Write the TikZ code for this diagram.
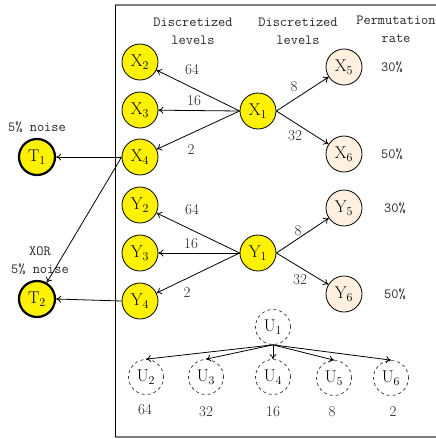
\documentclass[tikz,border=0pt]{standalone}
\usetikzlibrary{arrows.meta}
\begin{document}
\begin{tikzpicture}[x=1pt,y=-1pt,
  every node/.style={inner sep=0pt},
  yel/.style={circle,draw=black,line width=0.8pt,fill=yellow,minimum size=36pt,font=\fontsize{17}{17}\selectfont},
  pch/.style={circle,draw=black,line width=0.8pt,fill=orange!12!white,minimum size=36pt,font=\fontsize{17}{17}\selectfont},
  tgt/.style={circle,draw=black,line width=2.2pt,fill=yellow,minimum size=36pt,font=\fontsize{17}{17}\selectfont},
  unode/.style={circle,draw=black!80,dashed,line width=0.7pt,minimum size=35pt,font=\fontsize{17}{17}\selectfont},
  arr/.style={-{To[length=5pt,width=7pt]},line width=0.8pt},
  mono/.style={font=\ttfamily\fontsize{14}{18}\selectfont,align=center,text=black!85},
  num/.style={font=\fontsize{15}{15}\selectfont,text=black!85}
]
\useasboundingbox (0,0) rectangle (436,439);
% frame
\draw[gray,line width=1.2pt] (115,5) -- (440,5);
\draw[gray,line width=1.2pt] (115,437) -- (440,437);
\draw[black,line width=1pt] (115,5) -- (115,437);
% headers
\node[mono] (h1) at (193,31) {Discretized\\levels};
\node[mono] (h2) at (298,31) {Discretized\\levels};
\node[mono] (h3) at (396,29) {Permutation\\rate};
% nodes
\node[yel] (X2) at (140,62) {X$_2$};
\node[yel] (X3) at (140,110) {X$_3$};
\node[yel] (X4) at (140,157) {X$_4$};
\node[yel] (Y2) at (140,205) {Y$_2$};
\node[yel] (Y3) at (140,253) {Y$_3$};
\node[yel] (Y4) at (140,301) {Y$_4$};
\node[yel] (X1) at (258,111) {X$_1$};
\node[yel] (Y1) at (258,253) {Y$_1$};
\node[pch] (X5) at (344,67) {X$_5$};
\node[pch] (X6) at (344,154) {X$_6$};
\node[pch] (Y5) at (344,208) {Y$_5$};
\node[pch] (Y6) at (344,294) {Y$_6$};
\node[tgt] (T1) at (37,157) {T$_1$};
\node[tgt] (T2) at (37,299) {T$_2$};
\node[unode] (U1) at (273,327) {U$_1$};
\node[unode] (U2) at (146,377) {U$_2$};
\node[unode] (U3) at (206,377) {U$_3$};
\node[unode] (U4) at (273,377) {U$_4$};
\node[unode] (U5) at (334,378) {U$_5$};
\node[unode] (U6) at (391,378) {U$_6$};
% side labels
\node[mono] (p1) at (392,67) {30\%};
\node[mono] (p2) at (392,154) {50\%};
\node[mono] (p3) at (395,208) {30\%};
\node[mono] (p4) at (395,294) {50\%};
\node[mono] (n1) at (37,127) {5\% noise};
\node[mono] (n2) at (40,261) {XOR\\5\% noise};
% connectors X
\draw[arr] (X1.west) -- (X2);
\draw[arr] (X1.west) -- (X3);
\draw[arr] (X1.west) -- (X4);
\draw[arr] (X1.east) -- (X5);
\draw[arr] (X1.east) -- (X6);
\node[num] (l1) at (192,70) {64};
\node[num] (l2) at (194,101) {16};
\node[num] (l3) at (191,150) {2};
\node[num] (l4) at (294,87) {8};
\node[num] (l5) at (295,136) {32};
% connectors Y
\draw[arr] (Y1.west) -- (Y2);
\draw[arr] (Y1.west) -- (Y3);
\draw[arr] (Y1.west) -- (Y4);
\draw[arr] (Y1.east) -- (Y5);
\draw[arr] (Y1.east) -- (Y6);
\node[num] (l6) at (192,210) {64};
\node[num] (l7) at (191,244) {16};
\node[num] (l8) at (187,293) {2};
\node[num] (l9) at (298,231) {8};
\node[num] (l10) at (300,280) {32};
% targets
\draw[arr] (X4.west) -- (T1.east);
\draw[arr] (X4.west) -- (T2);
\draw[arr] (Y4.west) -- (T2.east);
% U tree
\foreach \u in {U2,U3,U4,U5,U6} \draw[arr] (U1.south) -- (\u.north);
\node[num] (u2l) at (145,410) {64};
\node[num] (u3l) at (206,412) {32};
\node[num] (u4l) at (273,412) {16};
\node[num] (u5l) at (332,412) {8};
\node[num] (u6l) at (393,412) {2};
\end{tikzpicture}
\end{document}
